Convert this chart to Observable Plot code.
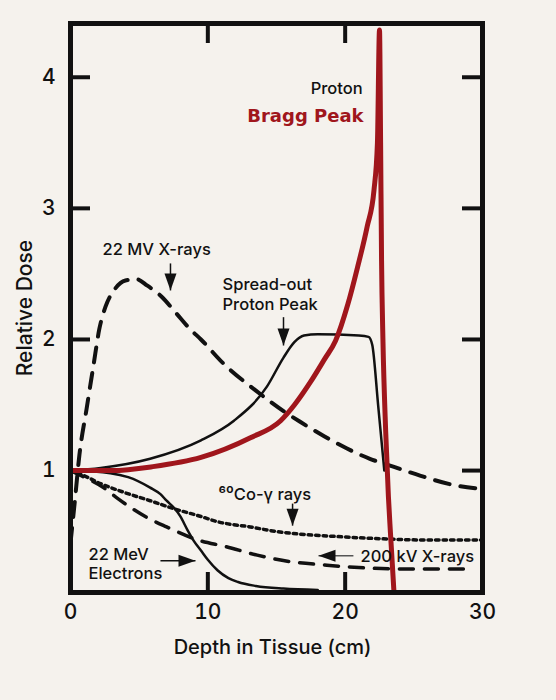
<!DOCTYPE html>
<html>
<head>
<meta charset="utf-8">
<script src="https://cdn.jsdelivr.net/npm/d3@7"></script>
<script src="https://cdn.jsdelivr.net/npm/@observablehq/plot@0.6"></script>
<style>
  html, body { margin: 0; padding: 0; background: #f5f2ed; }
  #chart svg { display: block; }
</style>
</head>
<body>
<div id="chart"></div>
<script>
// ---- data (depth in cm, relative dose) ----
const braggDepth = [0, 3, 6, 9.5, 13.1, 15.3, 16.3, 17.5, 18.5, 19.3, 20.2, 20.9, 21.6, 22.1, 22.35, 22.5, 22.58, 22.65, 22.75, 22.95, 23.15, 23.3, 23.55];
const braggDose  = [1.0, 1.0, 1.03, 1.10, 1.25, 1.38, 1.5, 1.68, 1.85, 1.99, 2.27, 2.55, 2.86, 3.14, 3.5, 4.36, 3.5, 2.6, 2.0, 1.3, 0.8, 0.52, 0.08];

const sobpDepth = [0, 2.2, 5.8, 9.5, 11.9, 14.3, 15.5, 16.3, 17.0, 18.0, 21.0, 21.7, 21.97, 22.4, 22.85];
const sobpDose  = [1.0, 1.02, 1.09, 1.23, 1.38, 1.64, 1.86, 1.98, 2.03, 2.04, 2.03, 2.02, 1.96, 1.5, 1.0];

const mv22Depth = [0, 0.3, 0.65, 1.17, 1.67, 2.1, 2.55, 3.2, 4.0, 4.8, 5.6, 6.6, 7.7, 8.7, 9.5, 11.1, 13.5, 15.7, 16.75, 18.5, 20.1, 21.8, 23.5, 25.5, 27.9, 30];
const mv22Dose  = [0.45, 0.75, 1.12, 1.47, 1.8, 2.08, 2.25, 2.38, 2.45, 2.46, 2.41, 2.33, 2.2, 2.08, 2.0, 1.82, 1.61, 1.44, 1.37, 1.26, 1.17, 1.09, 1.03, 0.96, 0.89, 0.86];

const electronDepth = [0, 2.9, 4.2, 5.8, 6.55, 7.0, 7.5, 8.0, 8.5, 9.0, 9.5, 10.0, 10.7, 11.5, 12.2, 13.5, 15.5, 18];
const electronDose  = [1.0, 0.98, 0.95, 0.87, 0.82, 0.77, 0.72, 0.65, 0.55, 0.46, 0.39, 0.32, 0.24, 0.18, 0.15, 0.12, 0.10, 0.09];

const cobaltDepth = [0, 1, 2.2, 4, 5.8, 7.5, 9.5, 10.7, 13.1, 15, 16.75, 18.9, 22.6, 26.2, 30];
const cobaltDose  = [1.0, 0.96, 0.9, 0.83, 0.77, 0.71, 0.65, 0.61, 0.57, 0.535, 0.515, 0.50, 0.48, 0.47, 0.47];

const kv200Depth = [0, 1, 2.4, 3.4, 4.5, 5.6, 7, 9.3, 11.3, 13.6, 16, 18.5, 21, 24, 28.9];
const kv200Dose  = [1.0, 0.95, 0.87, 0.79, 0.71, 0.64, 0.57, 0.47, 0.42, 0.355, 0.305, 0.28, 0.26, 0.25, 0.25];

// ---- ticks & titles ----
const xTickLabels = [0, 10, 20, 30];
const yTickLabels = [1, 2, 3, 4];
const xInnerTicks = [10, 20];
const yInnerTicks = [1, 2, 3, 4];
const xTitle = ["Depth in Tissue (cm)"];
const yTitle = ["Relative Dose"];

// ---- annotations ----
const labelText  = ["Proton", "Bragg Peak", "22 MV X-rays", "Spread-out\nProton Peak", "⁶⁰Co-γ rays", "22 MeV\nElectrons", "200 kV X-rays"];
const labelDepth = [21.27, 21.34, 2.33, 11.07, 10.78, 1.31, 21.12];
const labelDose  = [3.92, 3.70, 2.69, 2.35, 0.824, 0.294, 0.351];
const labelAnchor = ["end", "end", "start", "start", "start", "start", "start"];

const arrowFromDepth = [7.28, 15.51, 16.17, 6.55, 20.6];
const arrowFromDose  = [2.58, 2.17, 0.748, 0.313, 0.35];
const arrowToDepth   = [7.28, 15.51, 16.17, 9.10, 18.06];
const arrowToDose    = [2.374, 1.954, 0.58, 0.313, 0.35];
const arrowDir       = ["down", "down", "down", "right", "left"];
const arrowShade     = ["#111", "#111", "#111", "#111", "#555"];

const series = (xs, ys) => xs.map((d, i) => ({depth: d, dose: ys[i]}));
const labels = labelText.map((t, i) => ({text: t, depth: labelDepth[i], dose: labelDose[i], anchor: labelAnchor[i]}));
const arrows = arrowFromDepth.map((d, i) => ({
  x1: d, y1: arrowFromDose[i], x2: arrowToDepth[i], y2: arrowToDose[i],
  rot: {up: 0, right: 90, down: 180, left: -90}[arrowDir[i]],
  shade: arrowShade[i]
}));

const arrowHead = {
  draw(ctx) {
    const w = 12, h = 17;
    ctx.moveTo(0, 0);
    ctx.lineTo(-w / 2, h);
    ctx.lineTo(w / 2, h);
    ctx.closePath();
  }
};

const FONT = "Inter, 'Open Sans', 'DejaVu Sans', sans-serif";
const RED = "#a0161c";
const ML = 70, MR = 74, MT = 23, MB = 108, H = 700, W = 556;
const innerH = H - MT - MB, innerW = W - ML - MR;

const blackLabels = labels.filter(d => d.text !== "Bragg Peak");

const chart = Plot.plot({
  width: W,
  height: H,
  marginLeft: ML, marginRight: MR, marginTop: MT, marginBottom: MB,
  style: {background: "#f5f2ed", fontFamily: FONT, color: "#111"},
  x: {domain: [0, 30]},
  y: {domain: [0.07, 4.41]},
  marks: [
    Plot.axisX({ticks: xTickLabels, tickSize: 0, tickPadding: 12, fontSize: 21, fontWeight: 500, label: null, tickFormat: d => String(d)}),
    Plot.axisY({ticks: yTickLabels, tickSize: 0, tickPadding: 15, fontSize: 21, fontWeight: 500, label: null, tickFormat: d => String(d)}),
    // inward ticks
    Plot.tickX(xInnerTicks, {x: d => d, insetTop: innerH - 20, stroke: "#111", strokeWidth: 4}),
    Plot.tickX(xInnerTicks, {x: d => d, insetBottom: innerH - 20, stroke: "#111", strokeWidth: 4}),
    Plot.tickY(yInnerTicks, {y: d => d, insetRight: innerW - 20, stroke: "#111", strokeWidth: 4}),
    Plot.tickY(yInnerTicks, {y: d => d, insetLeft: innerW - 20, stroke: "#111", strokeWidth: 4}),
    // curves
    Plot.line(series(kv200Depth, kv200Dose), {x: "depth", y: "dose", curve: "monotone-x", stroke: "#111", strokeWidth: 3.5, strokeDasharray: "14 11"}),
    Plot.line(series(cobaltDepth, cobaltDose), {x: "depth", y: "dose", curve: "monotone-x", stroke: "#111", strokeWidth: 3.5, strokeDasharray: "3.5 4"}),
    Plot.line(series(electronDepth, electronDose), {x: "depth", y: "dose", curve: "monotone-x", stroke: "#111", strokeWidth: 2.5}),
    Plot.line(series(mv22Depth, mv22Dose), {x: "depth", y: "dose", curve: "monotone-x", stroke: "#111", strokeWidth: 4, strokeDasharray: "15 11"}),
    Plot.line(series(sobpDepth, sobpDose), {x: "depth", y: "dose", curve: "monotone-x", stroke: "#111", strokeWidth: 2.5}),
    Plot.line(series(braggDepth, braggDose), {x: "depth", y: "dose", curve: "monotone-x", stroke: RED, strokeWidth: 5}),
    // arrows
    Plot.link(arrows, {x1: "x1", y1: "y1", x2: "x2", y2: "y2", stroke: "shade", strokeWidth: 1.5}),
    Plot.dot(arrows, {x: "x2", y: "y2", symbol: arrowHead, rotate: "rot", fill: "#111", stroke: "none"}),
    // labels
    Plot.text(blackLabels.filter(d => d.anchor === "start"), {x: "depth", y: "dose", text: "text", textAnchor: "start", fontSize: 16.5, fontWeight: 500, lineHeight: 1.18, fill: "#111"}),
    Plot.text(blackLabels.filter(d => d.anchor === "end"), {x: "depth", y: "dose", text: "text", textAnchor: "end", fontSize: 16.5, fontWeight: 500, lineHeight: 1.18, fill: "#111"}),
    Plot.text(labels.filter(d => d.text === "Bragg Peak"), {x: "depth", y: "dose", text: "text", textAnchor: "end", fontSize: 18, fontWeight: "bold", fontFamily: "'DejaVu Sans', sans-serif", fill: RED}),
    // axis titles
    Plot.text(yTitle, {frameAnchor: "left", dx: -45, rotate: -90, textAnchor: "middle", fontSize: 21, fontWeight: 500, fill: "#111"}),
    Plot.text(xTitle, {frameAnchor: "bottom", dy: 61, dx: -4, textAnchor: "middle", fontSize: 20, fontWeight: 500, fill: "#111"}),
    Plot.frame({stroke: "#111", strokeWidth: 5})
  ]
});

document.getElementById("chart").append(chart);
</script>
</body>
</html>
